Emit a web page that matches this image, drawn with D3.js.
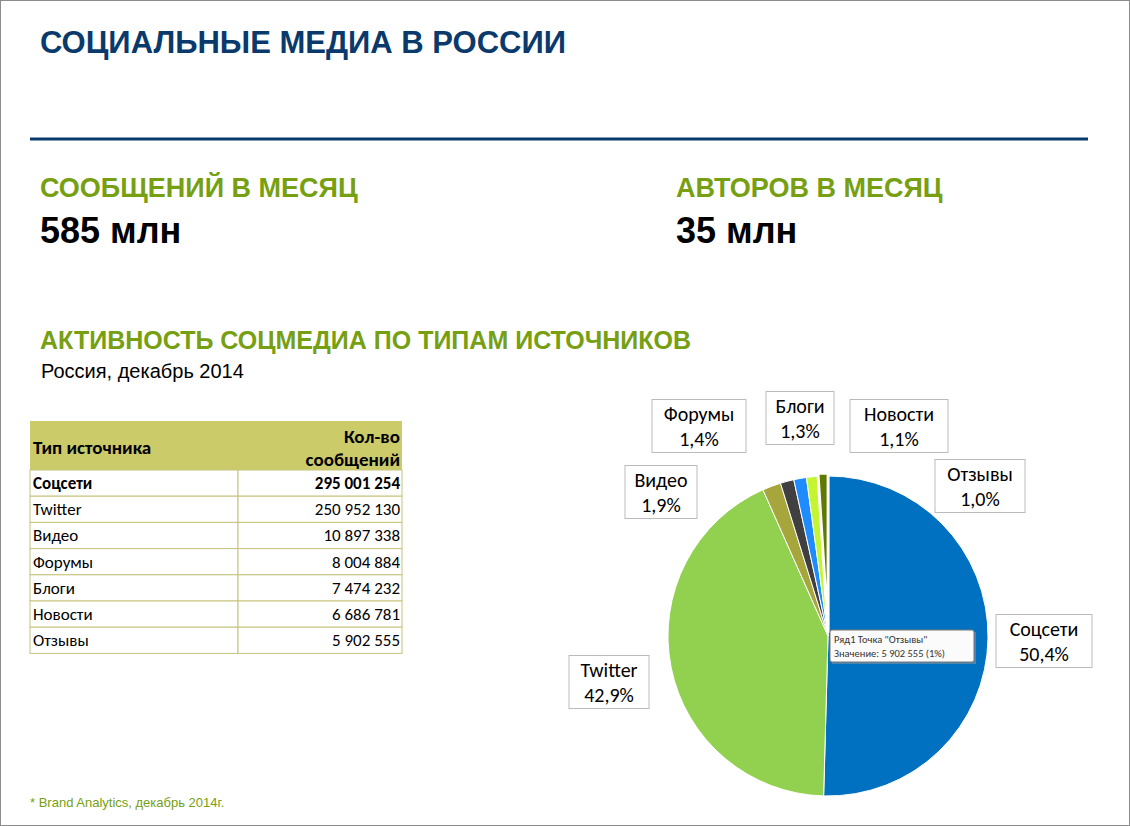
<!DOCTYPE html>
<html><head><meta charset="utf-8">
<script src="https://cdn.jsdelivr.net/npm/d3@7"></script>
<style>body{margin:0;background:#fff}svg{display:block}</style>
</head><body><svg id="c" width="1130" height="826"></svg>
<script>
const categories = ["Соцсети","Twitter","Видео","Форумы","Блоги","Новости","Отзывы"];
const values = [295001254,250952130,10897338,8004884,7474232,6686781,5902555];
const valueLabels = ["295 001 254","250 952 130","10 897 338","8 004 884","7 474 232","6 686 781","5 902 555"];
const pctLabels = ["50,4%","42,9%","1,9%","1,4%","1,3%","1,1%","1,0%"];
const colors = ["#0070c0","#92d050","#a6a63c","#404040","#1e8cff","#c4f531","#5f7a00"];
// label box centers (layout)
const labelBoxes = [[1044,641,96],[609,682,80],[661,492,72],[699,426,94],[800,418,68],[899,426,98],[980,486,90]];

const svg = d3.select("#c");
const F = "Arial, 'Liberation Sans', sans-serif";
svg.append("rect").attr("x",0.5).attr("y",0.5).attr("width",1129).attr("height",825).attr("fill","#fff").attr("stroke","#8c8c8c");
svg.append("text").attr("x",40).attr("y",53).attr("font-family",F).attr("font-weight","bold").attr("font-size",31).attr("fill","#0a3a6b").text("СОЦИАЛЬНЫЕ  МЕДИА В РОССИИ");
svg.append("line").attr("x1",30).attr("x2",1088).attr("y1",139).attr("y2",139).attr("stroke","#0a3a6b").attr("stroke-width",3);
const g1=[[40,"СООБЩЕНИЙ В МЕСЯЦ","585 млн"],[676,"АВТОРОВ В МЕСЯЦ","35 млн"]];
g1.forEach(([x,a,b])=>{
  svg.append("text").attr("x",x).attr("y",197).attr("font-family",F).attr("font-weight","bold").attr("font-size",27).attr("fill","#76a012").text(a);
  svg.append("text").attr("x",x).attr("y",243).attr("font-family",F).attr("font-weight","bold").attr("font-size",36).attr("fill","#000").text(b);
});
svg.append("text").attr("x",40).attr("y",349).attr("font-family",F).attr("font-weight","bold").attr("font-size",25).attr("fill","#76a012").text("АКТИВНОСТЬ СОЦМЕДИА ПО ТИПАМ ИСТОЧНИКОВ");
svg.append("text").attr("x",41).attr("y",378).attr("font-family",F).attr("font-size",20).attr("fill","#000").text("Россия, декабрь 2014");

// table
const TF="Calibri, Carlito, 'Liberation Sans', sans-serif";
const tx0=30,tx1=238,tx2=402,ty0=421,hy=470,rh=26.2;
svg.append("rect").attr("x",tx0).attr("y",ty0).attr("width",tx2-tx0).attr("height",hy-ty0).attr("fill","#cccb6a");
svg.append("text").attr("x",33).attr("y",454).attr("font-family",TF).attr("font-weight","bold").attr("font-size",19).text("Тип источника");
svg.append("text").attr("x",400).attr("y",443).attr("text-anchor","end").attr("font-family",TF).attr("font-weight","bold").attr("font-size",19).text("Кол-во");
svg.append("text").attr("x",400).attr("y",466).attr("text-anchor","end").attr("font-family",TF).attr("font-weight","bold").attr("font-size",19).text("сообщений");
const rows = svg.append("g").selectAll("g").data(categories).join("g").attr("transform",(d,i)=>`translate(0,${hy+i*rh})`);
rows.append("rect").attr("x",tx0).attr("width",tx1-tx0).attr("height",rh).attr("fill","#fff").attr("stroke","#c6c47a");
rows.append("rect").attr("x",tx1).attr("width",tx2-tx1).attr("height",rh).attr("fill","#fff").attr("stroke","#c6c47a");
rows.append("text").attr("x",33).attr("y",19).attr("font-family",TF).attr("font-size",17).attr("font-weight",(d,i)=>i==0?"bold":"normal").text(d=>d);
rows.append("text").attr("x",400).attr("y",19).attr("text-anchor","end").attr("font-family",TF).attr("font-size",17).attr("font-weight",(d,i)=>i==0?"bold":"normal").text((d,i)=>valueLabels[i]);

// pie
const cx=828, cy=636, R=160;
const pie=d3.pie().sort(null).value(d=>d)(values);
const arc=d3.arc().innerRadius(0).outerRadius(R);
const pg=svg.append("g").attr("transform",`translate(${cx},${cy})`);
pg.selectAll("path").data(pie).join("path").attr("d",arc).attr("fill",(d,i)=>colors[i]).attr("stroke","#fff").attr("stroke-width",(d,i)=>i==6?3:1)
  .attr("transform",(d,i)=>{ if(i!==6) return null; const a=(d.startAngle+d.endAngle)/2; return `translate(${-3*Math.sin(a)},${3*Math.cos(a)*-1})`;});

// labels
labelBoxes.forEach(([x,y,w],i)=>{
  const h=53;
  svg.append("rect").attr("x",x-w/2).attr("y",y-h/2).attr("width",w).attr("height",h).attr("fill","#fff").attr("stroke","#bbb");
  svg.append("text").attr("x",x).attr("y",y-5).attr("text-anchor","middle").attr("font-family",TF).attr("font-size",20).text(categories[i]);
  svg.append("text").attr("x",x).attr("y",y+20).attr("text-anchor","middle").attr("font-family",TF).attr("font-size",20).text(pctLabels[i]);
});

// tooltip
const tt=svg.append("g").attr("transform","translate(830,630)");
tt.append("rect").attr("x",2).attr("y",2).attr("width",144).attr("height",32).attr("fill","#999").attr("opacity",0.5);
tt.append("rect").attr("width",144).attr("height",32).attr("rx",2).attr("fill","#fbfbfb").attr("stroke","#777");
tt.append("text").attr("x",4).attr("y",13).attr("font-family",TF).attr("font-size",10.5).attr("fill","#333").text('Ряд1 Точка "Отзывы"');
tt.append("text").attr("x",4).attr("y",27).attr("font-family",TF).attr("font-size",10.5).attr("fill","#333").text("Значение: 5 902 555 (1%)");

svg.append("text").attr("x",30).attr("y",807).attr("font-family",F).attr("font-size",13).attr("fill","#76a012").text("* Brand Analytics, декабрь 2014г.");
</script></body></html>
